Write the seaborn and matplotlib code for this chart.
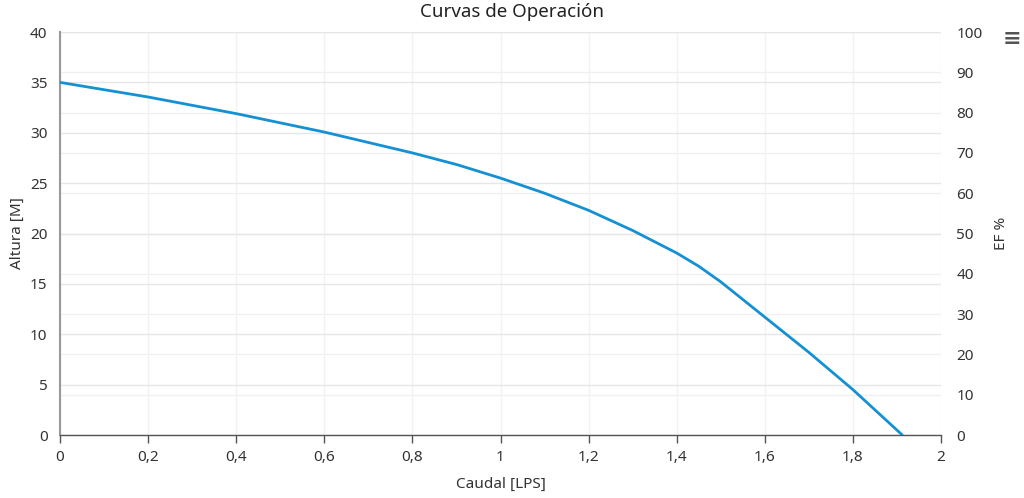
import matplotlib
matplotlib.use("Agg")
import matplotlib.pyplot as plt
import seaborn as sns
import pandas as pd

# Datos
caudal = [0.0, 0.2, 0.4, 0.6, 0.8, 0.9, 1.0, 1.1, 1.2, 1.3, 1.4, 1.45, 1.5, 1.6, 1.7, 1.8, 1.912]
altura = [35.0, 33.55, 31.9, 30.07, 28.0, 26.85, 25.5, 24.0, 22.3, 20.3, 18.06, 16.75, 15.2, 11.7, 8.2, 4.5, 0.0]

x_ticks = [0, 0.2, 0.4, 0.6, 0.8, 1.0, 1.2, 1.4, 1.6, 1.8, 2.0]
x_labels = ["0", "0,2", "0,4", "0,6", "0,8", "1", "1,2", "1,4", "1,6", "1,8", "2"]
alt_ticks = [0, 5, 10, 15, 20, 25, 30, 35, 40]
ef_ticks = [0, 10, 20, 30, 40, 50, 60, 70, 80, 90, 100]

sns.set_theme(style="white")
plt.rcParams['font.family'] = ['Noto Sans', 'DejaVu Sans']

df = pd.DataFrame({"Caudal": caudal, "Altura": altura})

fig = plt.figure(figsize=(10.24, 4.98), dpi=100)
ax = fig.add_axes([0.0586, 0.1265, 0.8604, 0.8092])
ax2 = ax.twinx()

# Grilla eje derecho (EF %)
ax2.set_ylim(0, 100)
ax2.set_yticks(ef_ticks)
ax2.grid(axis="y", color="#f0f0f0", lw=1)
ax2.tick_params(axis="y", length=0, pad=11, labelsize=11, colors="#333333")
for s in ax2.spines.values():
    s.set_visible(False)
ax2.set_ylabel("EF %", fontsize=11, color="#333333")
ax2.yaxis.set_label_coords(1.06, 0.5)

# Curva principal
sns.lineplot(data=df, x="Caudal", y="Altura", ax=ax, color="#1591d3", lw=2, zorder=5)
ax.set_zorder(ax2.get_zorder() + 1)
ax.patch.set_visible(False)

ax.set_xlim(0, 2)
ax.set_ylim(0, 40)
ax.set_xticks(x_ticks)
ax.set_xticklabels(x_labels)
ax.set_yticks(alt_ticks)
ax.grid(axis="y", color="#e6e6e6", lw=1)
ax.grid(axis="x", color="#f2f2f2", lw=1)
ax.tick_params(axis="y", length=0, pad=9, labelsize=11, colors="#333333")
ax.tick_params(axis="x", length=6, width=1, color="#555555", direction="out",
               pad=5, labelsize=11, labelcolor="#333333", bottom=True)
for side in ["top", "right"]:
    ax.spines[side].set_visible(False)
ax.spines["left"].set_color("#999999")
ax.spines["left"].set_linewidth(1.5)
ax.spines["bottom"].set_color("#555555")
ax.spines["bottom"].set_linewidth(1)

ax.set_xlabel("Caudal [LPS]", fontsize=11, color="#333333")
ax.xaxis.set_label_coords(0.5, -0.105)
ax.set_ylabel("Altura [M]", fontsize=11, color="#333333")
ax.yaxis.set_label_coords(-0.04, 0.5)

fig.text(0.5, 0.976, "Curvas de Operación", ha="center", va="center",
         fontsize=13.5, color="#222222")
fig.text(0.988, 0.92, "≡", ha="center", va="center", fontsize=16, color="#555555",
         fontweight="bold")

fig.savefig("out.png", dpi=100)
